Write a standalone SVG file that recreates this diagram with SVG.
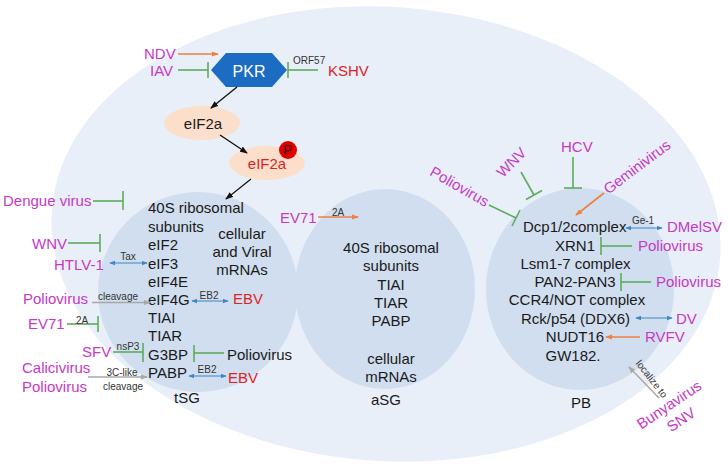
<svg xmlns="http://www.w3.org/2000/svg" width="728" height="464" viewBox="0 0 728 464">
<defs>
<style>
text{font-family:"Liberation Sans",Arial,sans-serif}
.t{font-size:15px;fill:#1a1a1a}
.v{font-size:15px;fill:#c639c6}
.r{font-size:15px;fill:#e0231f}
.s{font-size:10px;fill:#333}
.m{text-anchor:middle}
.inh{stroke:#5aad5a;stroke-width:1.6;fill:none}
.bl{stroke:#3d85c6;stroke-width:1.2;fill:none;marker-start:url(#ab);marker-end:url(#ab)}
.gr{stroke:#a8a8a8;stroke-width:1.5;fill:none;marker-end:url(#ag)}
.or{stroke:#ee8040;stroke-width:1.6;fill:none;marker-end:url(#ao)}
.bk{stroke:#111;stroke-width:1.3;fill:none;marker-end:url(#ak)}
.sg{fill:#d0deef}
</style>
<marker id="ab" viewBox="0 0 8 6" refX="7" refY="3" markerWidth="6" markerHeight="5" markerUnits="userSpaceOnUse" orient="auto-start-reverse"><path d="M0,0 L8,3 L0,6 z" fill="#3d85c6"/></marker>
<marker id="ag" viewBox="0 0 8 6" refX="7" refY="3" markerWidth="7" markerHeight="6" markerUnits="userSpaceOnUse" orient="auto"><path d="M0,0 L8,3 L0,6 z" fill="#a8a8a8"/></marker>
<marker id="ao" viewBox="0 0 8 6" refX="7" refY="3" markerWidth="7" markerHeight="6" markerUnits="userSpaceOnUse" orient="auto"><path d="M0,0 L8,3 L0,6 z" fill="#ee8040"/></marker>
<marker id="ak" viewBox="0 0 8 6" refX="7" refY="3" markerWidth="8" markerHeight="7" markerUnits="userSpaceOnUse" orient="auto"><path d="M0,0 L8,3 L0,6 z" fill="#111"/></marker>
</defs>
<rect width="728" height="464" fill="#ffffff"/>
<g id="cell"><ellipse cx="386" cy="234" rx="335" ry="227" transform="rotate(4 386 234)" fill="#e9eff8"/></g>
<g id="tSG"><ellipse class="sg" cx="198" cy="292" rx="100" ry="100"/>
<text class="t" x="148" y="212.5">40S ribosomal</text>
<text class="t" x="148" y="231.5">subunits</text>
<text class="t" x="148" y="249.5">eIF2</text>
<text class="t" x="148" y="268.5">eIF3</text>
<text class="t" x="148" y="286.5">eIF4E</text>
<text class="t" x="148" y="304.5">eIF4G</text>
<text class="t" x="148" y="323">TIAI</text>
<text class="t" x="148" y="341">TIAR</text>
<text class="t" x="148" y="359.5">G3BP</text>
<text class="t" x="148" y="378">PABP</text>
<text class="t m" x="242" y="238.5">cellular</text>
<text class="t m" x="242" y="256.5">and Viral</text>
<text class="t m" x="242" y="274.5">mRNAs</text>
<text class="t m" x="187" y="402.5">tSG</text>
</g>
<g id="aSG"><ellipse class="sg" cx="385" cy="289" rx="90" ry="100"/>
<text class="t m" x="391" y="252.5">40S ribosomal</text>
<text class="t m" x="391" y="271">subunits</text>
<text class="t m" x="391" y="289.5">TIAI</text>
<text class="t m" x="391" y="307.5">TIAR</text>
<text class="t m" x="391" y="325.5">PABP</text>
<text class="t m" x="391" y="363.5">cellular</text>
<text class="t m" x="391" y="381.5">mRNAs</text>
<text class="t m" x="386" y="404.5">aSG</text>
</g>
<g id="PB"><ellipse class="sg" cx="580" cy="289" rx="94" ry="101"/>
<text class="t" x="523" y="231.5">Dcp1/2complex</text>
<text class="t m" x="575" y="250.5">XRN1</text>
<text class="t m" x="575.5" y="268.5">Lsm1-7 complex</text>
<text class="t m" x="575" y="286.5">PAN2-PAN3</text>
<text class="t m" x="577" y="304.5">CCR4/NOT complex</text>
<text class="t m" x="575.5" y="323.5">Rck/p54 (DDX6)</text>
<text class="t m" x="575" y="342">NUDT16</text>
<text class="t m" x="573" y="360.5">GW182.</text>
<text class="t m" x="581" y="407.5">PB</text>
</g>
<g id="PKR"><polygon points="211,70 226,53 272,53 287,70 272,87 226,87" fill="#1d6cc3"/>
<text class="m" x="249" y="76.5" font-size="16" fill="#ffffff">PKR</text></g>
<g id="eIF2a"><ellipse cx="202" cy="123" rx="38" ry="17" fill="#fcdfcb"/>
<text class="t m" x="203" y="128.5">eIF2a</text></g>
<g id="eIF2a-P"><ellipse cx="267" cy="163" rx="38" ry="17" fill="#fcdfcb"/>
<text class="r m" x="267" y="169">eIF2a</text>
<circle cx="288" cy="150" r="9" fill="#e00000"/>
<text class="m" x="288" y="155" font-size="14" fill="#3a0000">P</text></g>
<g id="virus-labels">
<text class="v" x="144" y="58.5">NDV</text>
<text class="v" x="150" y="75.5">IAV</text>
<text class="r" x="328" y="75.5">KSHV</text>
<text class="s" x="293" y="63.5">ORF57</text>
<text class="v" x="3" y="205.5">Dengue virus</text>
<text class="v" x="32" y="248.5">WNV</text>
<text class="v" x="54" y="269.5">HTLV-1</text>
<text class="v" x="23" y="303.5">Poliovirus</text>
<text class="r" x="233" y="304">EBV</text>
<text class="v" x="28" y="328.5">EV71</text>
<text class="v" x="82" y="356.5">SFV</text>
<text class="t" x="227" y="359.5">Poliovirus</text>
<text class="v" x="22" y="372.5">Calicivirus</text>
<text class="v" x="22" y="391.5">Poliovirus</text>
<text class="r" x="228" y="382.5">EBV</text>
<text class="v" x="280" y="222.5">EV71</text>
<text class="v" x="561" y="151.5">HCV</text>
<text class="v m" transform="translate(515 166) rotate(-45)">WNV</text>
<text class="v m" transform="translate(457 191) rotate(30)">Poliovirus</text>
<text class="v m" transform="translate(640 171) rotate(-37)">Geminivirus</text>
<text class="v" x="667" y="231.5">DMelSV</text>
<text class="v" x="638" y="250.5">Poliovirus</text>
<text class="v" x="656" y="286.5">Poliovirus</text>
<text class="v" x="676" y="323.5">DV</text>
<text class="v" x="645" y="342">RVFV</text>
<text class="v m" transform="translate(672 409) rotate(-34)">Bunyavirus</text>
<text class="v m" transform="translate(684 424) rotate(-34)">SNV</text>
</g>
<g id="connectors">
<line class="or" x1="178" y1="54" x2="218" y2="54"/>
<line class="inh" x1="178" y1="70" x2="208" y2="70"/><line class="inh" x1="208" y1="62" x2="208" y2="78"/>
<line class="inh" x1="318" y1="70" x2="288" y2="70"/><line class="inh" x1="288" y1="62" x2="288" y2="78"/>
<line class="bk" x1="237" y1="87" x2="211" y2="108"/>
<line class="bk" x1="220" y1="135" x2="247" y2="153"/>
<line class="bk" x1="251" y1="179" x2="226" y2="199"/>
<line class="inh" x1="93" y1="201" x2="123" y2="201"/><line class="inh" x1="123" y1="191" x2="123" y2="210"/>
<line class="inh" x1="68" y1="243" x2="100" y2="243"/><line class="inh" x1="100" y1="234" x2="100" y2="252"/>
<line class="bl" x1="110" y1="263" x2="147" y2="263"/><text class="s m" x="128" y="259.5">Tax</text>
<line class="gr" x1="92" y1="302.5" x2="150" y2="302.5"/><text class="s m" x="118" y="300">cleavage</text>
<line class="bl" x1="192" y1="301" x2="228" y2="301"/><text class="s m" x="209" y="298.5">EB2</text>
<line class="inh" x1="67" y1="324" x2="98" y2="324"/><line class="inh" x1="98" y1="316" x2="98" y2="332"/><text class="s m" x="82" y="323.5">2A</text>
<line class="inh" x1="113" y1="352" x2="143" y2="352"/><line class="inh" x1="143" y1="343" x2="143" y2="362"/><text class="s m" x="128" y="350">nsP3</text>
<line class="inh" x1="224" y1="353" x2="194" y2="353"/><line class="inh" x1="194" y1="345" x2="194" y2="362"/>
<line class="gr" x1="88" y1="377" x2="147" y2="377"/><text class="s m" x="122" y="375.5">3C-like</text><text class="s m" x="123" y="390">cleavage</text>
<line class="bl" x1="189" y1="376" x2="226" y2="376"/><text class="s m" x="207" y="372.5">EB2</text>
<line class="or" x1="318" y1="217" x2="358" y2="217"/><text class="s m" x="338" y="215.5">2A</text>
<line class="inh" x1="573" y1="157" x2="573" y2="188"/><line class="inh" x1="564" y1="188" x2="582" y2="188"/>
<line class="inh" x1="521" y1="172" x2="534" y2="195"/><line class="inh" x1="526" y1="199.5" x2="542" y2="190.5"/>
<line class="inh" x1="489" y1="205" x2="516" y2="218"/><line class="inh" x1="512" y1="226" x2="520" y2="210"/>
<line class="or" x1="604" y1="193" x2="576" y2="215"/>
<line class="bl" x1="626" y1="228" x2="662" y2="228"/><text class="s m" x="643" y="224">Ge-1</text>
<line class="inh" x1="632" y1="246" x2="601" y2="246"/><line class="inh" x1="601" y1="237" x2="601" y2="255"/>
<line class="inh" x1="651" y1="282" x2="621" y2="282"/><line class="inh" x1="621" y1="273" x2="621" y2="291"/>
<line class="bl" x1="636" y1="318" x2="672" y2="318"/>
<line class="or" x1="640" y1="337" x2="606" y2="337"/>
<line class="gr" x1="659" y1="398" x2="629" y2="367"/>
<text class="s m" transform="translate(649 381) rotate(52)">localize to</text>
</g>
</svg>
